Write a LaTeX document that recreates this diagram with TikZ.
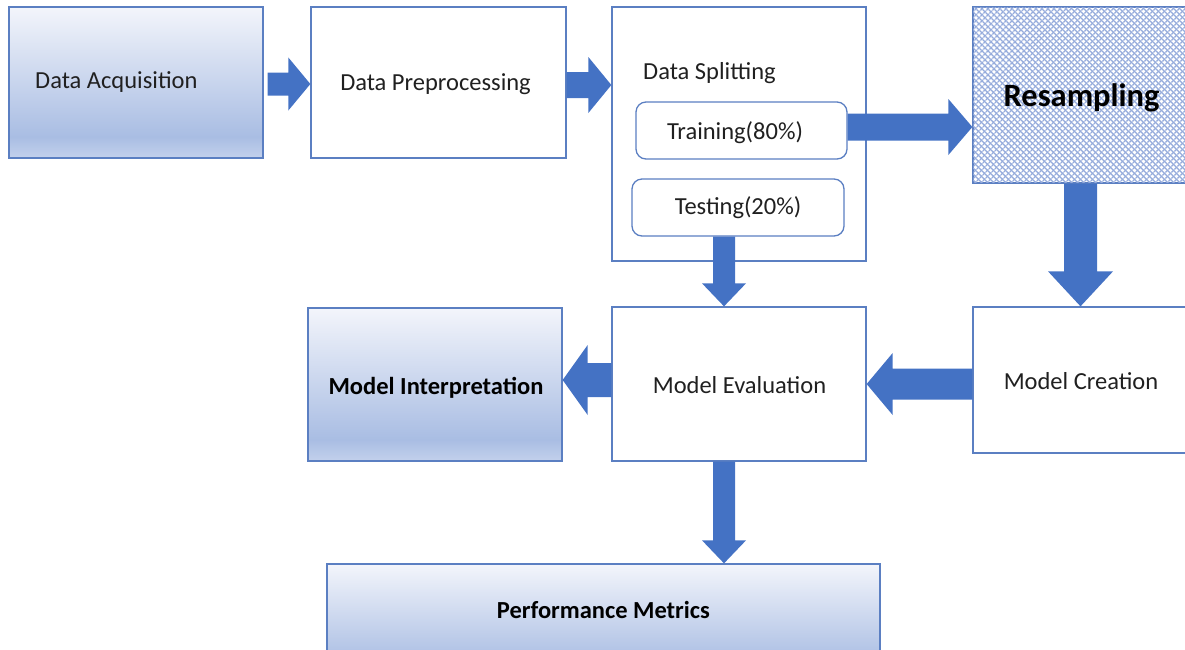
\documentclass[tikz,border=0pt]{standalone}
\usepackage{fontspec}
\setmainfont{Carlito}
\usetikzlibrary{calc,patterns.meta}
\definecolor{ob}{HTML}{4472C4}
\definecolor{bd}{HTML}{5B7FC2}
\definecolor{gT}{HTML}{F3F5FB}
\definecolor{gM}{HTML}{A9BDE3}
\definecolor{gB}{HTML}{C3D1EC}
\definecolor{hatch}{RGB}{150,172,220}
\definecolor{txt}{HTML}{202020}
\pgfdeclareverticalshading{bluegrad}{100bp}{color(0bp)=(gB); color(25bp)=(gB); color(32bp)=(gM); color(75bp)=(gT); color(100bp)=(gT)}
\newcommand\blockarrow[5]{%
  \coordinate (ba-h) at ($(#2)!#5!(#1)$);
  \fill[arr] ($(#1)!#3!90:(#2)$) -- ($(ba-h)!#3!90:(#2)$) -- ($(ba-h)!#4!90:(#2)$) -- (#2)
    -- ($(ba-h)!#4!-90:(#2)$) -- ($(ba-h)!#3!-90:(#2)$) -- ($(#1)!#3!-90:(#2)$) -- cycle;}
\begin{document}
\begin{tikzpicture}[x=1pt,y=-1pt,
  box/.style={draw=bd,line width=1.3pt,fill=white,inner sep=0pt},
  gbox/.style={box,shading=bluegrad},
  rbox/.style={box,rounded corners=10pt},
  arr/.style={fill=ob},
  lbl/.style={font=\fontsize{24.5}{28}\selectfont,text=txt,inner sep=0pt,anchor=base},
  blbl/.style={lbl,font=\fontsize{24.5}{28}\selectfont\bfseries,text=black}]
\useasboundingbox (0,0) rectangle (1185,649);
% boxes
\node[gbox,minimum width=254,minimum height=151] (acq) at (136,82.5) {};
\node[box,minimum width=255,minimum height=151] (prep) at (438.5,82.5) {};
\node[box,minimum width=254,minimum height=254] (split) at (739,134) {};
\node[rbox,minimum width=211,minimum height=57] (train) at (741.5,130.5) {};
\node[rbox,minimum width=212,minimum height=57] (test) at (738,207.5) {};
\node[box,minimum width=215,minimum height=176] (resamp) at (1080.5,95) {};
\fill[pattern={Lines[angle=45,distance=4pt,line width=1.4pt]},pattern color=hatch] (resamp.north west) rectangle (resamp.south east);
\fill[pattern={Lines[angle=-45,distance=4pt,line width=1.4pt]},pattern color=hatch] (resamp.north west) rectangle (resamp.south east);
\draw[draw=bd,line width=1.3pt] (resamp.north west) rectangle (resamp.south east);
\node[box,minimum width=215,minimum height=146] (create) at (1080.5,380) {};
\node[box,minimum width=254,minimum height=154] (eval) at (739,384) {};
\node[gbox,minimum width=254,minimum height=153] (interp) at (435,384.5) {};
\node[gbox,minimum width=553,minimum height=116] (metrics) at (603.5,622) {};
% labels
\node[lbl,anchor=base west] (tacq) at (35,88) {Data Acquisition};
\node[lbl] (tprep) at (435.5,90) {Data Preprocessing};
\node[lbl,anchor=base west] (tsplit) at (643,79) {Data Splitting};
\node[lbl] (ttrain) at (735,139) {Training(80\%)};
\node[lbl] (ttest) at (738,214) {Testing(20\%)};
\node[blbl,font=\fontsize{32.5}{36}\selectfont\bfseries] (tres) at (1081.5,106) {Resampling};
\node[blbl] (tinterp) at (436,394) {Model Interpretation};
\node[lbl] (teval) at (739.5,393) {Model Evaluation};
\node[lbl] (tcreate) at (1081,389) {Model Creation};
\node[blbl] (tmetrics) at (603.5,618) {Performance Metrics};
% connectors
\coordinate (s1) at ([xshift=4,yshift=-1.5]acq.east);
\coordinate (t1) at (prep.west |- s1);
\blockarrow{s1}{t1}{11.5pt}{26.5pt}{22pt}
\coordinate (s2) at ([yshift=-2.5]prep.east);
\coordinate (t2) at (split.west |- s2);
\blockarrow{s2}{t2}{13pt}{28pt}{23pt}
\coordinate (s3) at ([yshift=3.5]train.east);
\coordinate (t3) at (resamp.west |- s3);
\blockarrow{s3}{t3}{13.5pt}{28pt}{24pt}
\blockarrow{resamp.south}{create.north}{16.5pt}{32.5pt}{35pt}
\coordinate (s5) at ([yshift=-4]create.west);
\coordinate (t5) at (eval.east |- s5);
\blockarrow{s5}{t5}{15.5pt}{31pt}{26pt}
\coordinate (s6) at ([xshift=-14]test.south);
\coordinate (t6) at (s6 |- eval.north);
\blockarrow{s6}{t6}{11pt}{22pt}{23pt}
\coordinate (s7) at ([yshift=4]eval.west);
\coordinate (t7) at (interp.east |- s7);
\blockarrow{s7}{t7}{17pt}{35pt}{25pt}
\coordinate (s8) at ([xshift=-15]eval.south);
\coordinate (t8) at (s8 |- metrics.north);
\blockarrow{s8}{t8}{11pt}{22pt}{23pt}
\end{tikzpicture}
\end{document}
